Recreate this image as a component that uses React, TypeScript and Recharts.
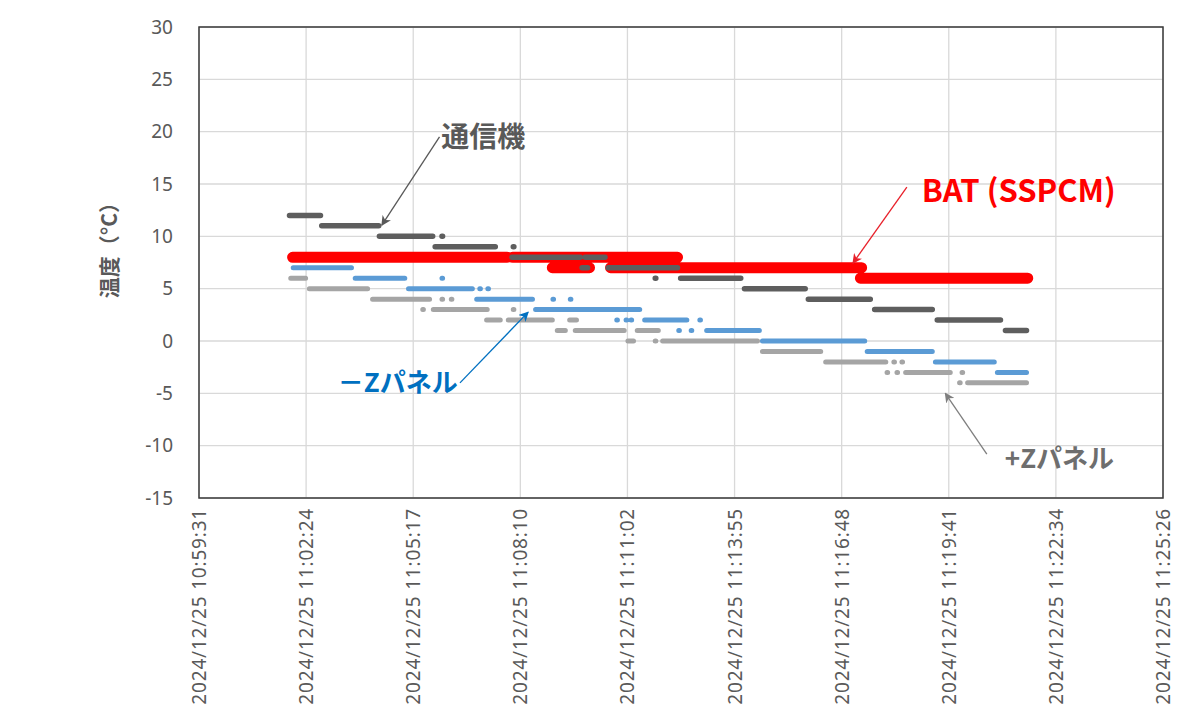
import { LineChart, Line, XAxis, YAxis, CartesianGrid } from "recharts";

// Each run: [start seconds from 10:59:31, end seconds, temperature °C]
type Run = [number, number, number];

const xTicks = [0, 172.8, 345.6, 518.4, 691.2, 864, 1036.8, 1209.6, 1382.4, 1555.2];
const xTickLabels = [
  "2024/12/25 10:59:31",
  "2024/12/25 11:02:24",
  "2024/12/25 11:05:17",
  "2024/12/25 11:08:10",
  "2024/12/25 11:11:02",
  "2024/12/25 11:13:55",
  "2024/12/25 11:16:48",
  "2024/12/25 11:19:41",
  "2024/12/25 11:22:34",
  "2024/12/25 11:25:26",
];
const yTicks = [-15, -10, -5, 0, 5, 10, 15, 20, 25, 30];

// 通信機
const commRuns: Run[] = [
  [146, 196, 12],
  [198, 290, 11],
  [291, 377, 10],
  [392, 393, 10],
  [381, 478, 9],
  [507, 508, 9],
  [505, 615, 8],
  [623, 655, 8],
  [618, 627, 7],
  [660, 772, 7],
  [736, 737, 6],
  [777, 874, 6],
  [880, 978, 5],
  [983, 1083, 4],
  [1090, 1183, 3],
  [1191, 1293, 2],
  [1301, 1335, 1],
];

// BAT (SSPCM)
const batRuns: Run[] = [
  [151, 497, 8],
  [506, 772, 8],
  [570, 630, 7],
  [664, 1069, 7],
  [1067, 1337, 6],
];

// −Zパネル
const minusZRuns: Run[] = [
  [152, 246, 7],
  [252, 332, 6],
  [392, 393, 6],
  [338, 441, 5],
  [453, 454, 5],
  [466, 467, 5],
  [448, 538, 4],
  [571, 572, 4],
  [599, 600, 4],
  [543, 711, 3],
  [674, 675, 2],
  [689, 690, 2],
  [697, 698, 2],
  [719, 787, 2],
  [808, 809, 2],
  [774, 775, 1],
  [794, 795, 1],
  [819, 904, 1],
  [909, 1074, 0],
  [1078, 1183, -1],
  [1188, 1283, -2],
  [1288, 1335, -3],
];

// ＋Zパネル
const plusZRuns: Run[] = [
  [148, 172, 6],
  [178, 272, 5],
  [280, 372, 4],
  [392, 393, 4],
  [407, 408, 4],
  [361, 362, 3],
  [378, 465, 3],
  [507, 508, 3],
  [464, 486, 2],
  [499, 570, 2],
  [598, 609, 2],
  [578, 591, 1],
  [607, 686, 1],
  [707, 741, 1],
  [692, 701, 0],
  [736, 737, 0],
  [748, 901, 0],
  [909, 1003, -1],
  [1011, 1108, -2],
  [1121, 1122, -2],
  [1134, 1135, -2],
  [1110, 1111, -3],
  [1126, 1127, -3],
  [1140, 1212, -3],
  [1231, 1232, -3],
  [1227, 1228, -4],
  [1240, 1335, -4],
];

const toPoints = (runs: Run[]) => {
  const pts: { t: number; v: number | null }[] = [];
  for (const [a, b, v] of runs) {
    pts.push({ t: a, v }, { t: b, v }, { t: b, v: null });
  }
  return pts;
};

const W = 1200;
const H = 728;
const PLOT = { left: 199, top: 27, right: 1163, bottom: 498 };
const X_MAX = 1555.2;
const Y_MIN = -15;
const Y_MAX = 30;

const px = (t: number) => PLOT.left + (t / X_MAX) * (PLOT.right - PLOT.left);
const py = (v: number) => PLOT.top + ((Y_MAX - v) / (Y_MAX - Y_MIN)) * (PLOT.bottom - PLOT.top);

const notes = [
  { text: "通信機", size: 28, color: "#595959", arrow: "#595959", label: [391, 19.66], from: [388, 19.5], to: [295, 11.07] },
  { text: "BAT (SSPCM)", size: 31, color: "#FF0000", arrow: "#E8202A", label: [1166, 14.58], from: [1142, 14.69], to: [1055, 7.44] },
  { text: "－Zパネル", size: 26, color: "#0070C0", arrow: "#0070C0", label: [224, -3.73], from: [421, -4.0], to: [531, 2.76] },
  { text: "+Zパネル", size: 26, color: "#6E6E6E", arrow: "#7F7F7F", label: [1300, -11.08], from: [1271, -10.8], to: [1204, -5.0] },
];

const tickFont = "'Noto Sans', 'Open Sans', sans-serif";

function XTick(props: any) {
  const { x, y, index } = props;
  return (
    <text
      x={x}
      y={y}
      transform={`rotate(-90, ${x}, ${y})`}
      textAnchor="end"
      dominantBaseline="central"
      fill="#595959"
      fontSize={19}
      letterSpacing={0.8}
      fontFamily={tickFont}
    >
      {xTickLabels[index]}
    </text>
  );
}

export default function App() {
  return (
    <div style={{ position: "absolute", left: 0, top: 0, width: W, height: H, background: "#fff" }}>
      <style>{`.recharts-line path, path.recharts-line-curve { stroke-linecap: round !important; stroke-linejoin: round; }`}</style>
      <LineChart width={W} height={H} margin={{ top: PLOT.top, right: W - PLOT.right, bottom: 0, left: 0 }}>
        <CartesianGrid stroke="#D9D9D9" strokeWidth={1.3} />
        <XAxis
          type="number"
          dataKey="t"
          domain={[0, X_MAX]}
          ticks={xTicks}
          interval={0}
          height={H - PLOT.bottom}
          axisLine={false}
          tickLine={false}
          tickSize={0}
          tickMargin={10}
          tick={<XTick />}
          allowDataOverflow
        />
        <YAxis
          type="number"
          domain={[Y_MIN, Y_MAX]}
          ticks={yTicks}
          interval={0}
          width={PLOT.left}
          axisLine={false}
          tickLine={false}
          tickSize={0}
          tickMargin={26}
          tick={{ fill: "#595959", fontSize: 19, fontFamily: tickFont }}
          allowDataOverflow
        />
        <Line data={toPoints(batRuns)} dataKey="v" stroke="#FF0000" strokeWidth={11} dot={false} activeDot={false} isAnimationActive={false} />
        <Line data={toPoints(plusZRuns)} dataKey="v" stroke="#A5A5A5" strokeWidth={5} dot={false} activeDot={false} isAnimationActive={false} />
        <Line data={toPoints(minusZRuns)} dataKey="v" stroke="#5B9BD5" strokeWidth={5} dot={false} activeDot={false} isAnimationActive={false} />
        <Line data={toPoints(commRuns)} dataKey="v" stroke="#5E5E5E" strokeWidth={5.5} dot={false} activeDot={false} isAnimationActive={false} />
      </LineChart>
      <svg width={W} height={H} style={{ position: "absolute", left: 0, top: 0, pointerEvents: "none" }}>
        <defs>
          {notes.map((n, i) => (
            <marker key={i} id={`head-${i}`} viewBox="0 0 10 10" refX="9" refY="5" markerWidth="10" markerHeight="10" markerUnits="userSpaceOnUse" orient="auto">
              <path d="M0,0 L10,5 L0,10 L3,5 z" fill={n.arrow} />
            </marker>
          ))}
        </defs>
        <rect
          x={PLOT.left}
          y={PLOT.top}
          width={PLOT.right - PLOT.left}
          height={PLOT.bottom - PLOT.top}
          fill="none"
          stroke="#3A3A3A"
          strokeWidth={1.5}
        />
        <text
          x={108}
          y={245}
          transform="rotate(-90, 108, 245)"
          textAnchor="middle"
          dominantBaseline="central"
          fill="#595959"
          fontSize={21}
          fontWeight="bold"
          fontFamily="'Noto Sans CJK JP', sans-serif"
        >
          温度（°C）
        </text>
        {notes.map((n, i) => (
          <g key={i}>
            <line
              x1={px(n.from[0])}
              y1={py(n.from[1])}
              x2={px(n.to[0])}
              y2={py(n.to[1])}
              stroke={n.arrow}
              strokeWidth={1.3}
              markerEnd={`url(#head-${i})`}
            />
            <text
              x={px(n.label[0])}
              y={py(n.label[1])}
              dominantBaseline="central"
              fill={n.color}
              fontSize={n.size}
              fontWeight="bold"
              fontFamily="'Noto Sans CJK JP', sans-serif"
            >
              {n.text}
            </text>
          </g>
        ))}
      </svg>
    </div>
  );
}
